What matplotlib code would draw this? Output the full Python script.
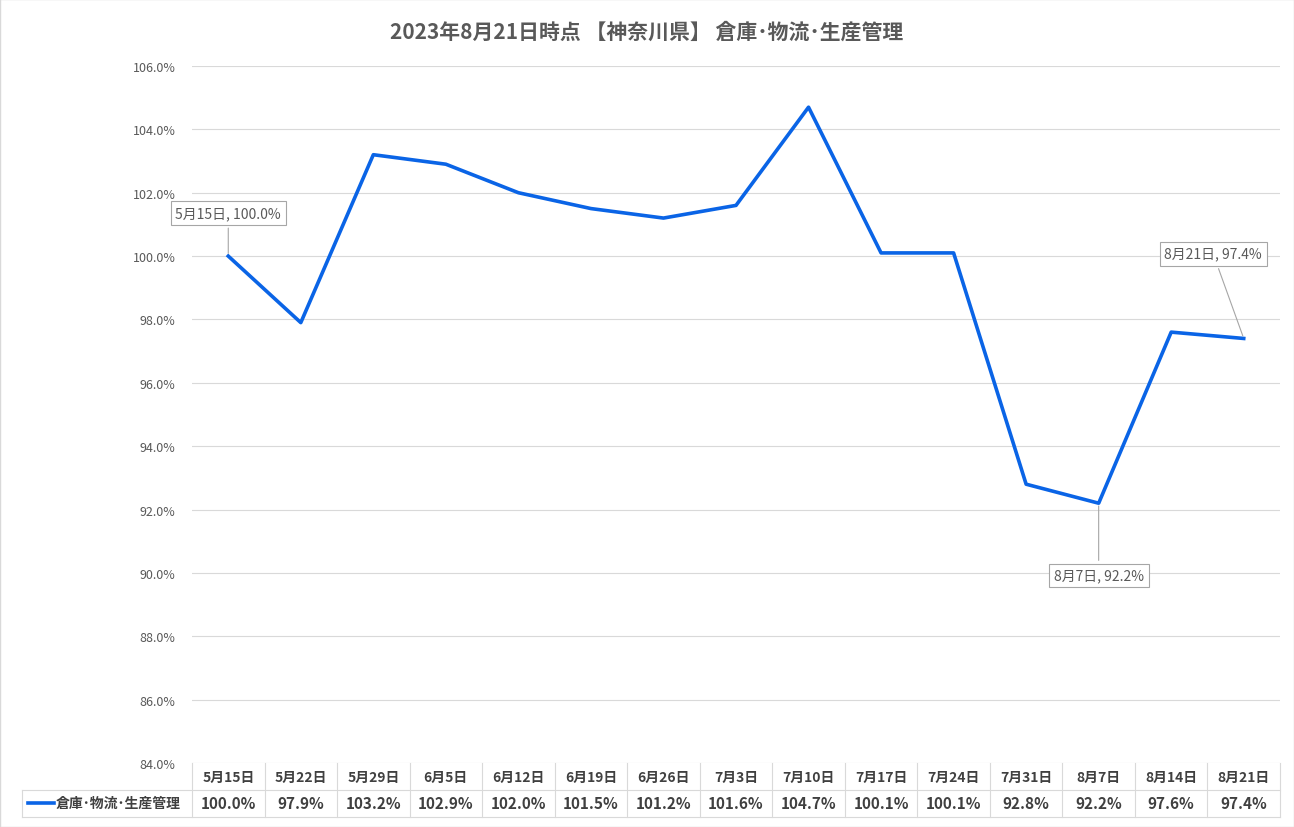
import matplotlib
matplotlib.use("Agg")
import matplotlib.pyplot as plt
from matplotlib.lines import Line2D

plt.rcParams["font.family"] = ["Noto Sans CJK JP", "DejaVu Sans"]

title = "2023年8月21日時点 【神奈川県】 倉庫･物流･生産管理"
series_name = "倉庫･物流･生産管理"
categories = ["5月15日", "5月22日", "5月29日", "6月5日", "6月12日", "6月19日", "6月26日",
              "7月3日", "7月10日", "7月17日", "7月24日", "7月31日", "8月7日", "8月14日", "8月21日"]
values = [100.0, 97.9, 103.2, 102.9, 102.0, 101.5, 101.2, 101.6, 104.7, 100.1, 100.1, 92.8, 92.2, 97.6, 97.4]
yticks = [84, 86, 88, 90, 92, 94, 96, 98, 100, 102, 104, 106]

W, H = 1294, 828
fig = plt.figure(figsize=(W / 100, H / 100), dpi=100)
L, R, T, B = 192, 1280, 67, 764
ax = fig.add_axes([L / W, 1 - B / H, (R - L) / W, (B - T) / H])
n = len(categories)
x = list(range(n))
ax.set_xlim(-0.5, n - 0.5)
ax.set_ylim(84, 106)
ax.set_yticks(yticks)
ax.set_yticklabels([f"{v:.1f}%" for v in yticks], fontsize=9, color="#595959")
ax.set_xticks([])
ax.grid(axis="y", color="#d9d9d9", lw=0.8)
ax.tick_params(axis="y", length=0, pad=12)
for s in ax.spines.values():
    s.set_visible(False)
color = "#0a64e6"
ax.plot(x, values, color=color, lw=2.6, solid_joinstyle="round")

def lab(i, dx, dy):
    t = f"{categories[i]}, {values[i]:.1f}%"
    ax.annotate(t, (x[i], values[i]), xytext=(dx, dy), textcoords="offset points",
                fontsize=10, color="#595959", ha="center", va="center",
                bbox=dict(boxstyle="square,pad=0.35", fc="white", ec="#a6a6a6", lw=0.8),
                arrowprops=dict(arrowstyle="-", color="#a6a6a6", lw=0.8))
lab(0, 0, 31)
lab(12, 0, -52)
lab(14, -22, 61)

fig.text(0.5, 1 - 32 / H, title, ha="center", va="center", fontsize=15, fontweight="bold", color="#595959")

# table
gc = "#d9d9d9"
def hline(y, x0, x1):
    fig.add_artist(Line2D([x0 / W, x1 / W], [1 - y / H, 1 - y / H], color=gc, lw=0.8))
def vline(xx, y0, y1):
    fig.add_artist(Line2D([xx / W, xx / W], [1 - y0 / H, 1 - y1 / H], color=gc, lw=0.8))
r1, r2, r3 = 764, 791, 818
hline(r2, 22, R); hline(r3, 22, R)
vline(22, r2, r3)
cw = (R - L) / n
for i in range(n + 1):
    vline(L + i * cw, r1, r3)
for i in range(n):
    cx = (L + (i + 0.5) * cw) / W
    fig.text(cx, 1 - (r1 + r2) / 2 / H, categories[i], ha="center", va="center", fontsize=10, fontweight="bold", color="#404040")
    fig.text(cx, 1 - (r2 + r3) / 2 / H, f"{values[i]:.1f}%", ha="center", va="center", fontsize=11, fontweight="bold", color="#404040")
fig.add_artist(Line2D([28 / W, 54 / W], [1 - 804 / H] * 2, color=color, lw=2.6))
fig.text(56 / W, 1 - 804 / H, series_name, ha="left", va="center", fontsize=10, fontweight="bold", color="#404040")
fig.add_artist(plt.Rectangle((0, 0), 1, 1, transform=fig.transFigure, fill=False, ec="#d9d9d9", lw=1))
fig.savefig("out.png", dpi=100)
